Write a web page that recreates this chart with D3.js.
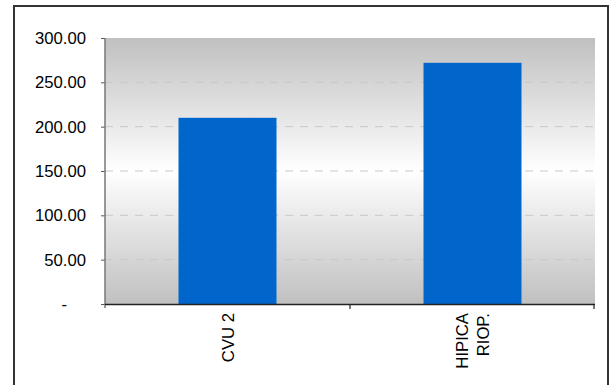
<!DOCTYPE html>
<html>
<head>
<meta charset="utf-8">
<script src="https://cdn.jsdelivr.net/npm/d3@7"></script>
<style>
  html, body { margin: 0; padding: 0; background: #fff; }
  svg { display: block; }
  text { font-family: "Liberation Sans", Arial, sans-serif; fill: #000; }
</style>
</head>
<body>
<script>
// Chart data
const categories = [["CVU 2"], ["HIPICA", "RIOP."]];
const values = [210, 272];
const yTicks = [0, 50, 100, 150, 200, 250, 300];

const W = 612, H = 385;
const plot = { left: 105, right: 595, top: 38, bottom: 304 };
const fontSize = "16.7px";

const svg = d3.select("body").append("svg").attr("width", W).attr("height", H);

// Outer chart frame
svg.append("rect")
  .attr("x", 14).attr("y", 6).attr("width", 594).attr("height", 400)
  .attr("fill", "#fff").attr("stroke", "#333").attr("stroke-width", 2);

const x = d3.scaleBand().domain(d3.range(categories.length))
  .range([plot.left, plot.right]).paddingInner(0.6).paddingOuter(0.3);
const xOuter = d3.scaleBand().domain(d3.range(categories.length))
  .range([plot.left, plot.right]);
const y = d3.scaleLinear().domain([0, 300]).range([plot.bottom, plot.top]);

// Plot-area background: grey-white-grey vertical gradient
const defs = svg.append("defs");
const grad = defs.append("linearGradient").attr("id", "bg")
  .attr("x1", 0).attr("y1", 0).attr("x2", 0).attr("y2", 1);
grad.append("stop").attr("offset", "0%").attr("stop-color", "#c0c0c0");
grad.append("stop").attr("offset", "50%").attr("stop-color", "#ffffff");
grad.append("stop").attr("offset", "100%").attr("stop-color", "#c0c0c0");

svg.append("rect")
  .attr("x", plot.left).attr("y", plot.top)
  .attr("width", plot.right - plot.left).attr("height", plot.bottom - plot.top)
  .attr("fill", "url(#bg)");

// Dashed horizontal gridlines
svg.append("g").selectAll("line")
  .data(yTicks.filter(d => d > 0 && d < 300))
  .join("line")
  .attr("x1", plot.left).attr("x2", plot.right)
  .attr("y1", d => y(d)).attr("y2", d => y(d))
  .attr("stroke", "#c8c8c8").attr("stroke-width", 1)
  .attr("stroke-dasharray", "8,7");

// Bars
svg.append("g").selectAll("rect")
  .data(values)
  .join("rect")
  .attr("x", (d, i) => x(i))
  .attr("width", x.bandwidth())
  .attr("y", d => y(d))
  .attr("height", d => y(0) - y(d))
  .attr("fill", "#0066cc");

// Y axis
const yAxis = d3.axisLeft(y).tickValues(yTicks).tickSize(4).tickPadding(15)
  .tickFormat(d => d === 0 ? "-" : d3.format(".2f")(d));
const gy = svg.append("g").attr("transform", `translate(${plot.left},0)`).call(yAxis);
gy.select(".domain").remove();
gy.selectAll(".tick line").attr("stroke", "#555");
gy.selectAll(".tick text").style("font-size", fontSize)
  .attr("dx", d => d === 0 ? -19 : 0);
svg.append("line")
  .attr("x1", plot.left).attr("x2", plot.left)
  .attr("y1", plot.top).attr("y2", plot.bottom + 4)
  .attr("stroke", "#777").attr("stroke-width", 1.5);

// X axis line and category separators
svg.append("line")
  .attr("x1", plot.left).attr("x2", plot.right)
  .attr("y1", plot.bottom + 0.5).attr("y2", plot.bottom + 0.5)
  .attr("stroke", "#222").attr("stroke-width", 1.5);
svg.append("g").selectAll("line")
  .data(d3.range(1, categories.length + 1))
  .join("line")
  .attr("x1", i => i < categories.length ? xOuter(i) : plot.right - 1)
  .attr("x2", i => i < categories.length ? xOuter(i) : plot.right - 1)
  .attr("y1", plot.bottom).attr("y2", plot.bottom + 5)
  .attr("stroke", "#222").attr("stroke-width", 1.2);

// Rotated category labels
const lineGap = 21;
const labels = svg.append("g").selectAll("text")
  .data(categories)
  .join("text")
  .attr("transform", (d, i) => {
    const cx = xOuter(i) + xOuter.bandwidth() / 2;
    const base = cx + 6 - (d.length - 1) * lineGap / 2;
    return `translate(${base},313) rotate(-90)`;
  })
  .attr("text-anchor", "end")
  .style("font-size", fontSize);
labels.selectAll("tspan")
  .data(d => d)
  .join("tspan")
  .attr("x", 0)
  .attr("y", (d, j) => j * lineGap)
  .text(d => d);
</script>
</body>
</html>
